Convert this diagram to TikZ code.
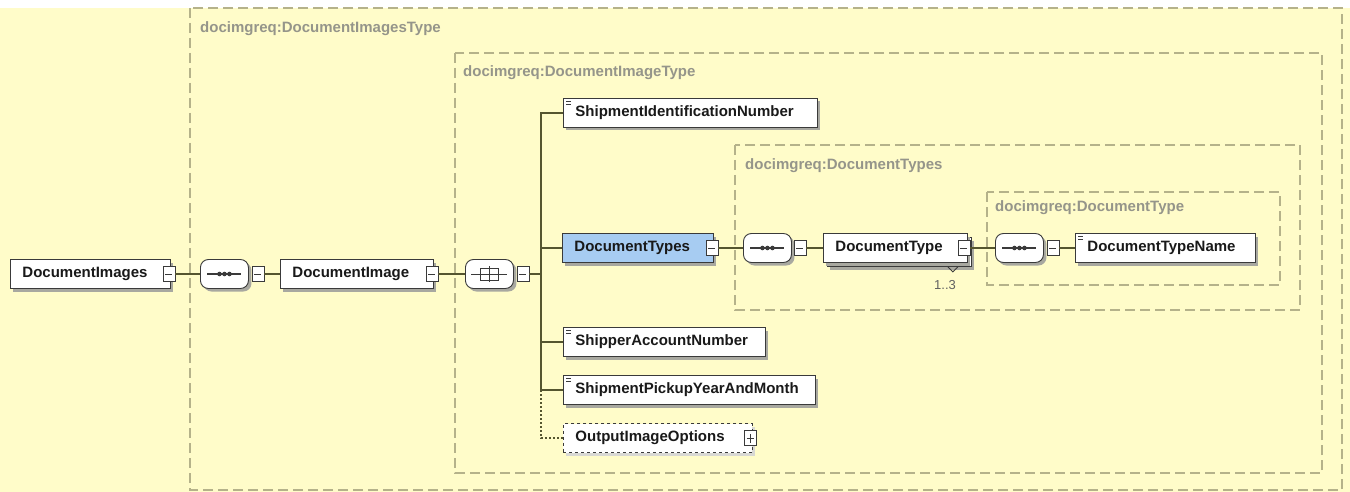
\documentclass[tikz,border=0pt]{standalone}
\usepackage{fontspec}
\setmainfont{Liberation Sans}
\usetikzlibrary{positioning,shapes.misc,shadows}
\definecolor{xsbg}{HTML}{FFFCC9}
\definecolor{xsdash}{HTML}{B5B28A}
\definecolor{xslabel}{HTML}{95958A}
\definecolor{xsline}{HTML}{3A3A3A}
\definecolor{xsconn}{HTML}{55552F}
\definecolor{xsblue}{HTML}{A7CCF2}
\definecolor{xsshade}{HTML}{A8A8A0}
\newcommand{\elemfont}{\bfseries\fontsize{15}{17}\selectfont}
\newcommand{\grpfont}{\bfseries\fontsize{15}{17}\selectfont}
\tikzset{
  elembase/.style={draw=xsline, fill=white, anchor=west, line width=0.9pt,
                   minimum height=29, inner xsep=12, inner ysep=0, text width=#1,
                   align=left, font=\elemfont, text=black!90},
  elem/.style={elembase=#1, drop shadow={shadow xshift=3pt, shadow yshift=-3pt,
                   fill=xsshade, opacity=1}},
  optelem/.style={elembase=#1, dashed, drop shadow={shadow xshift=3pt, shadow yshift=-3pt,
                   fill=xsshade!45, opacity=1}},
  simple/.style={path picture={
      \draw[xsline, line width=0.7pt]
        ([xshift=3pt,yshift=-3pt]path picture bounding box.north west) -- ++(5,0)
        ([xshift=3pt,yshift=-5.5pt]path picture bounding box.north west) -- ++(5,0);}},
  comp/.style={rectangle, rounded corners=8pt, draw=xsline, fill=white,
               line width=0.9pt, minimum width=48, minimum height=29, inner sep=0,
               anchor=west, drop shadow={shadow xshift=3pt, shadow yshift=-3pt,
               fill=xsshade, opacity=1}},
  seqmark/.style={path picture={
      \draw[xsline, line width=1.2pt] ([xshift=7pt]path picture bounding box.west)
        -- ([xshift=-7pt]path picture bounding box.east);
      \fill[xsline] ([xshift=-5pt]path picture bounding box.center) circle (2.3pt)
        (path picture bounding box.center) circle (2.3pt)
        ([xshift=5pt]path picture bounding box.center) circle (2.3pt);}},
  allmark/.style={path picture={
      \draw[xsline, line width=1pt] ([xshift=6pt]path picture bounding box.west)
        -- ([xshift=-6pt]path picture bounding box.east);
      \draw[xsline, line width=1pt, sharp corners]
        ([xshift=-9pt,yshift=-6pt]path picture bounding box.center) rectangle
        ([xshift=9pt,yshift=6pt]path picture bounding box.center);
      \draw[xsline, line width=1.3pt] ([yshift=-8pt]path picture bounding box.center)
        -- ([yshift=8pt]path picture bounding box.center);}},
  minusicon/.style={draw=xsline, fill=white, line width=0.8pt, minimum width=12,
                    minimum height=15, inner sep=0, path picture={
      \draw[xsline, line width=0.8pt] ([xshift=2.5pt]path picture bounding box.west)
        -- ([xshift=-2.5pt]path picture bounding box.east);}},
  plusicon/.style={draw=xsline, fill=white, line width=0.8pt, minimum width=12,
                   minimum height=15, inner sep=0, path picture={
      \draw[xsline, line width=0.8pt] ([xshift=2.5pt]path picture bounding box.west)
        -- ([xshift=-2.5pt]path picture bounding box.east)
        ([yshift=3pt]path picture bounding box.south)
        -- ([yshift=-3pt]path picture bounding box.north);}},
  grpbox/.style={draw=xsdash, dash pattern=on 10pt off 5pt, line width=1.1pt},
  grplabel/.style={anchor=west, inner sep=0, text=xslabel, font=\grpfont},
  conn/.style={draw=xsconn, line width=1.1pt}}

\begin{document}
\begin{tikzpicture}[x=1pt, y=-1pt]
  \useasboundingbox (0,0) rectangle (1350,492);
  \fill[xsbg] (0,8) rectangle (1350,492);

  % type boxes
  \draw[grpbox] (190,8) rectangle (1342,490);
  \draw[grpbox] (455,53) rectangle (1322,473);
  \draw[grpbox] (735,145) rectangle (1300,310);
  \draw[grpbox] (987,192) rectangle (1280,285);
  \node[grplabel] (imgstype) at (200,29) {docimgreq:DocumentImagesType};
  \node[grplabel] (imgtype) at (463,73) {docimgreq:DocumentImageType};
  \node[grplabel] (dtstype) at (745,166) {docimgreq:DocumentTypes};
  \node[grplabel] (dttype) at (995,208) {docimgreq:DocumentType};

  % main row
  \node[elem=136] (docimgs) at (10,274) {DocumentImages};
  \node[minusicon] (docimgs-ic) at ([xshift=-2pt]docimgs.east) {};
  \node[comp, seqmark] (seq1) at (200,274) {};
  \node[minusicon] (seq1-ic) at ([xshift=9pt]seq1.east) {};
  \node[elem=129] (docimg) at (280,274) {DocumentImage};
  \node[minusicon] (docimg-ic) at ([xshift=-2pt]docimg.east) {};
  \node[comp, allmark] (all) at (465,274) {};
  \node[minusicon] (all-ic) at ([xshift=9pt]all.east) {};
  \coordinate (trunk) at (541,274);

  % children
  \node[elem=230, simple] (shipid) at (563,113) {ShipmentIdentificationNumber};
  \node[elem=127, fill=xsblue] (doctypes) at (562,248) {DocumentTypes};
  \node[minusicon] (doctypes-ic) at ([xshift=-2pt]doctypes.east) {};
  \node[elem=178, simple] (shipacc) at (563,342) {ShipperAccountNumber};
  \node[elem=228, simple] (pickup) at (563,390) {ShipmentPickupYearAndMonth};
  \node[optelem=165] (outopts) at (563,438) {OutputImageOptions};
  \node[plusicon] (outopts-ic) at ([xshift=-2.5pt]outopts.east) {};

  % document types
  \node[comp, seqmark] (seq2) at (743,248) {};
  \node[minusicon] (seq2-ic) at ([xshift=8pt]seq2.east) {};
  \node[elem=120] (doctype-bk) at (827,252) {};
  \draw[xsline, line width=0.9pt] ([xshift=-24pt]doctype-bk.south east) -- ++(5,5) -- ++(5,-5);
  \node[elem=120] (doctype) at (823,248) {DocumentType};
  \node[minusicon] (doctype-ic) at ([xshift=-4pt]doctype.east) {};
  \node[inner sep=0, font=\fontsize{13}{15}\selectfont, text=xsline!80] (occurs) at (945,285) {1..3};
  \node[comp, seqmark] (seq3) at (995,248) {};
  \node[minusicon] (seq3-ic) at ([xshift=9pt]seq3.east) {};
  \node[elem=156, simple] (doctypename) at (1075,248) {DocumentTypeName};

  \draw[conn] (docimgs-ic.east) -- (seq1.west);
  \draw[conn] (seq1-ic.east) -- (docimg.west);
  \draw[conn] (docimg-ic.east) -- (all.west);
  \draw[conn] (all-ic.east) -- (trunk);
  \draw[conn] (shipid.west) -- (shipid.west -| trunk) -- (pickup.west -| trunk) -- (pickup.west);
  \draw[conn] (doctypes.west -| trunk) -- (doctypes.west);
  \draw[conn] (shipacc.west -| trunk) -- (shipacc.west);
  \draw[conn, dash pattern=on 2pt off 2pt] (pickup.west -| trunk) |- (outopts.west);
  \draw[conn] (doctypes-ic.east) -- (seq2.west);
  \draw[conn] (seq2-ic.east) -- (doctype.west);
  \draw[conn] (doctype-ic.east) -- (seq3.west);
  \draw[conn] (seq3-ic.east) -- (doctypename.west);
\end{tikzpicture}
\end{document}
